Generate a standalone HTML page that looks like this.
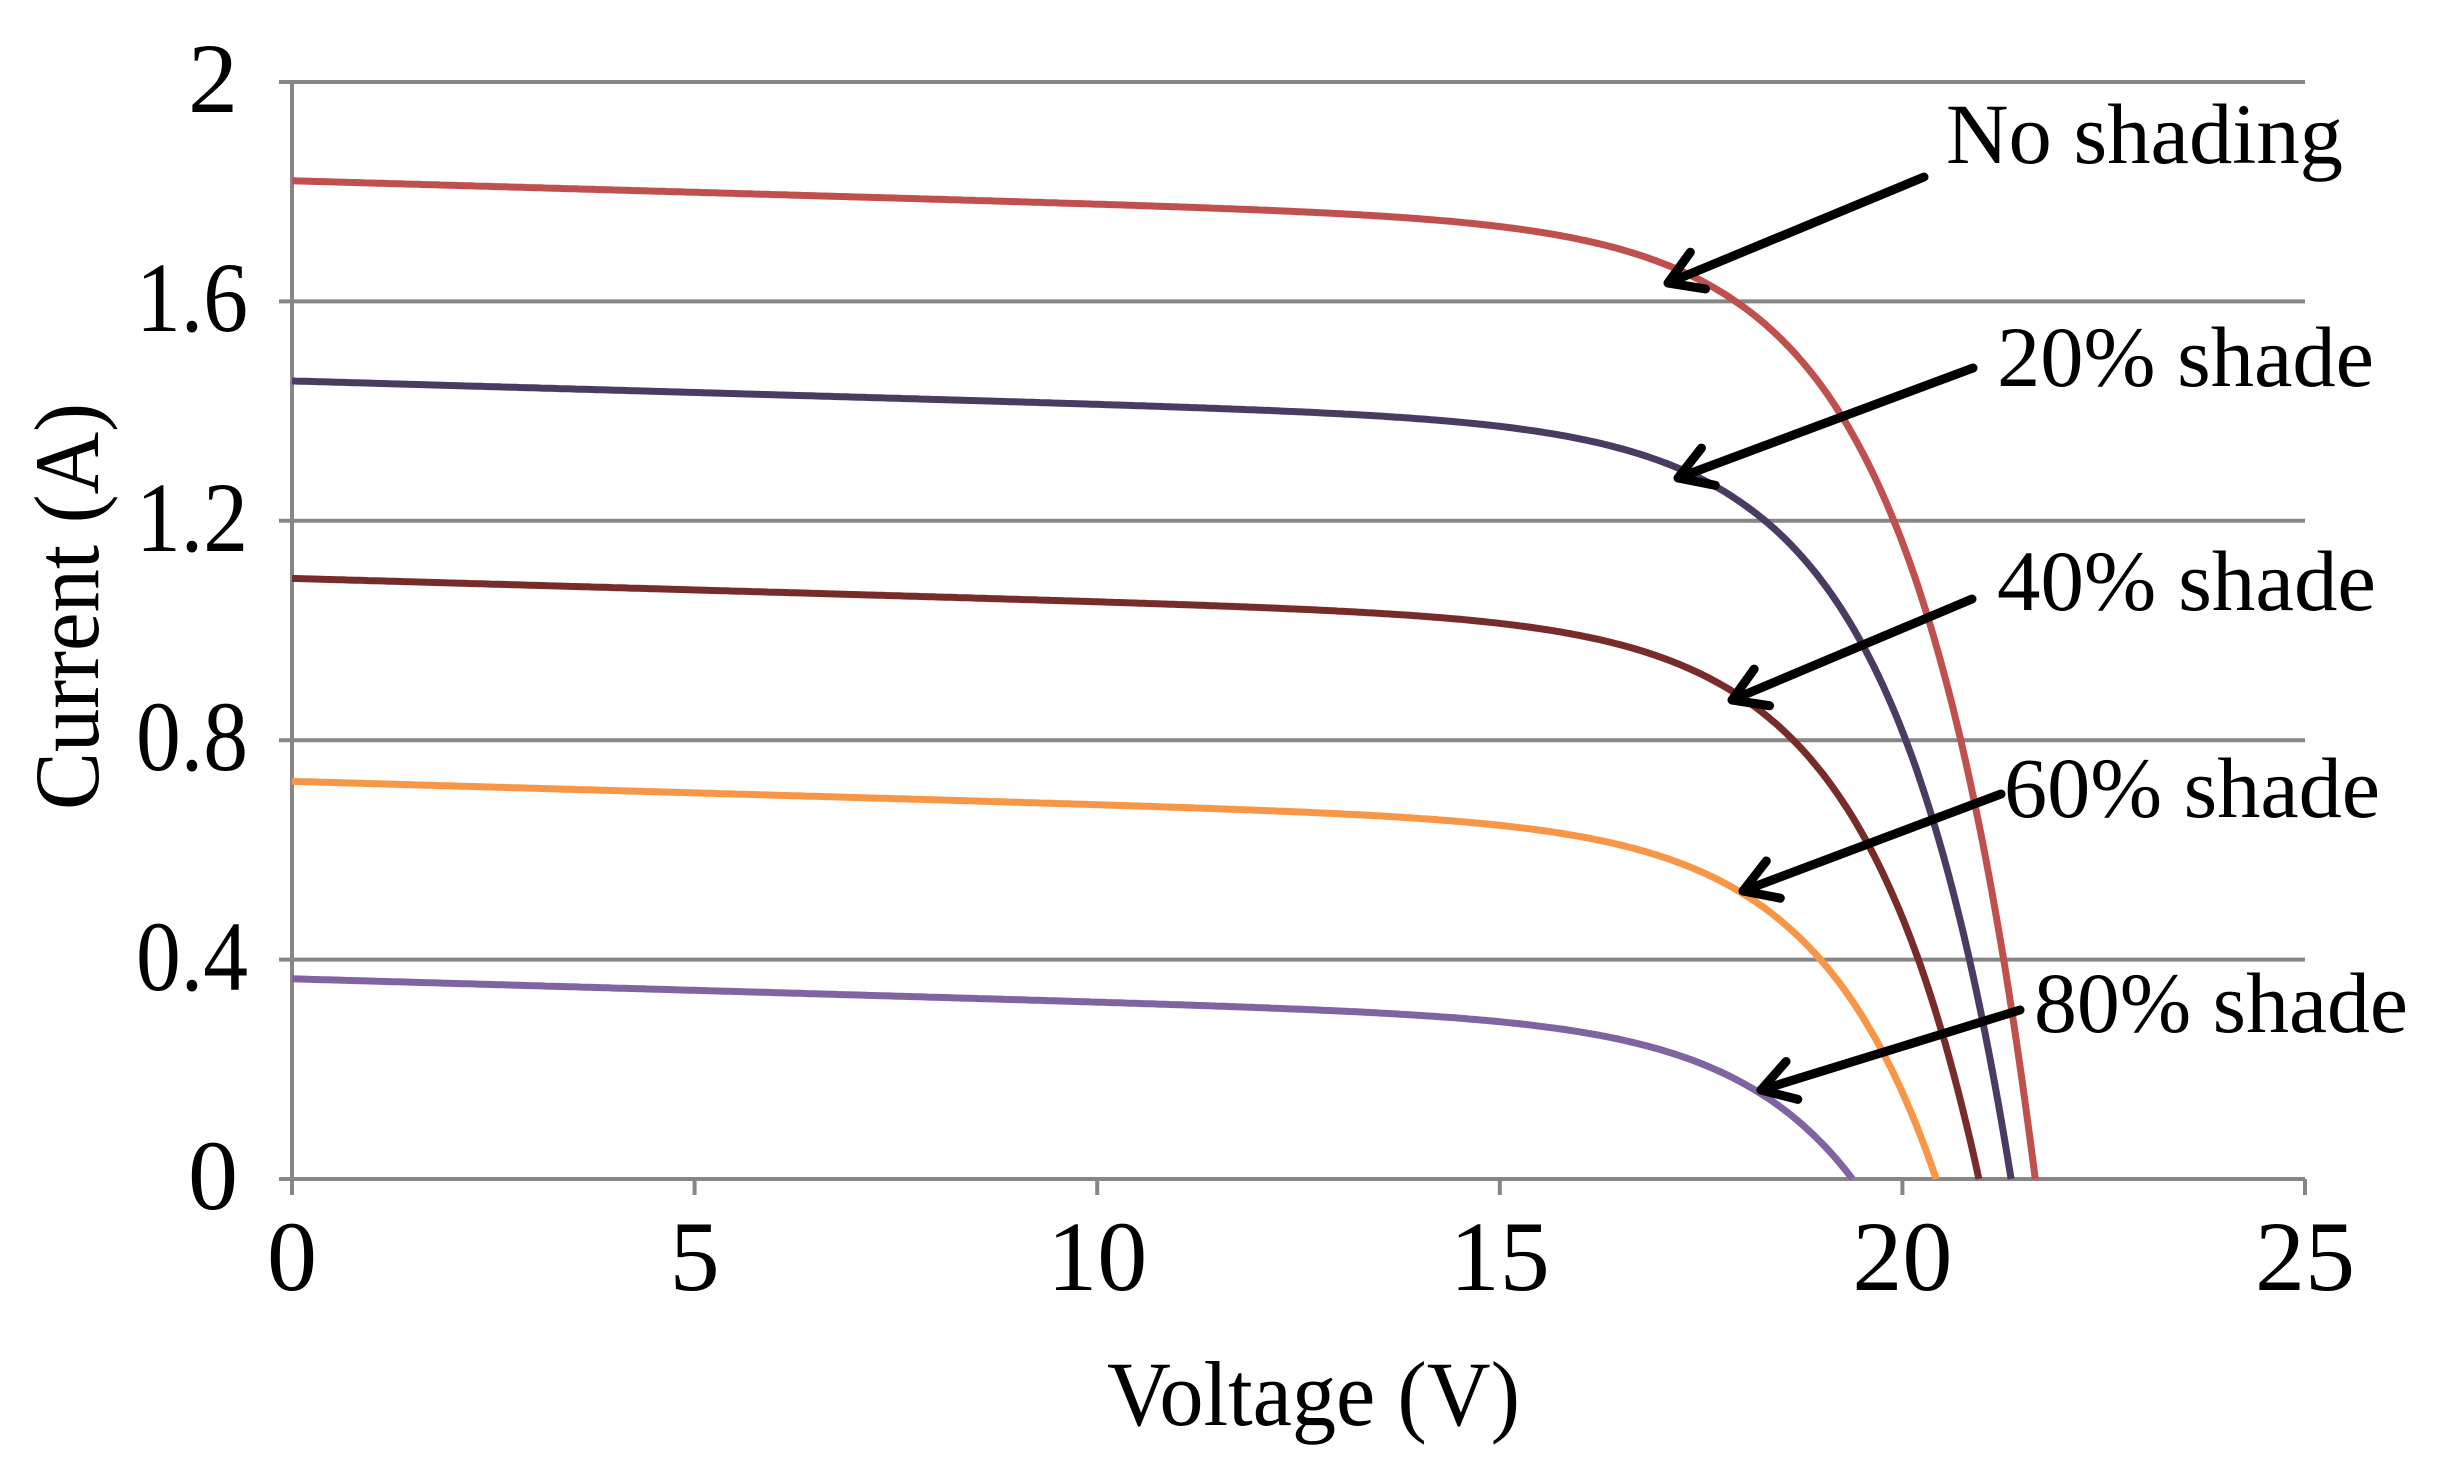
<!DOCTYPE html>
<html><head><meta charset="utf-8">
<style>html,body{margin:0;padding:0;background:#fff;}svg{display:block;}</style>
</head><body>
<svg id="s" width="2437" height="1470" viewBox="0 0 2437 1470" xmlns="http://www.w3.org/2000/svg" font-family="'Liberation Serif', serif">
<g stroke="#868686" stroke-width="4" fill="none">
<line x1="279" y1="82" x2="2305" y2="82"/>
<line x1="279" y1="301.4" x2="2305" y2="301.4"/>
<line x1="279" y1="520.8" x2="2305" y2="520.8"/>
<line x1="279" y1="740.2" x2="2305" y2="740.2"/>
<line x1="279" y1="959.6" x2="2305" y2="959.6"/>
<line x1="279" y1="1179" x2="2305" y2="1179"/>
<line x1="292" y1="82" x2="292" y2="1195"/>
<line x1="694.6" y1="1179" x2="694.6" y2="1195"/>
<line x1="1097.2" y1="1179" x2="1097.2" y2="1195"/>
<line x1="1499.8" y1="1179" x2="1499.8" y2="1195"/>
<line x1="1902.4" y1="1179" x2="1902.4" y2="1195"/>
<line x1="2305" y1="1179" x2="2305" y2="1195"/>
</g>
<g font-size="100" text-anchor="end" fill="#000">
<text x="238" y="112">2</text>
<text x="248" y="331" textLength="112" lengthAdjust="spacingAndGlyphs">1.6</text>
<text x="248" y="551" textLength="112" lengthAdjust="spacingAndGlyphs">1.2</text>
<text x="248" y="770" textLength="112" lengthAdjust="spacingAndGlyphs">0.8</text>
<text x="248" y="990" textLength="112" lengthAdjust="spacingAndGlyphs">0.4</text>
<text x="238" y="1209">0</text>
</g>
<g font-size="100" text-anchor="middle" fill="#000">
<text x="292" y="1290">0</text>
<text x="694.6" y="1290">5</text>
<text x="1097.2" y="1290">10</text>
<text x="1499.8" y="1290">15</text>
<text x="1902.4" y="1290">20</text>
<text x="2305" y="1290">25</text>
</g>
<text x="1107" y="1425" font-size="92" textLength="413" lengthAdjust="spacingAndGlyphs">Voltage (V)</text>
<text transform="translate(98,810) rotate(-90)" font-size="92" textLength="407" lengthAdjust="spacingAndGlyphs">Current (A)</text>
<g id="curves" fill="none" stroke-width="7"></g>
<g font-size="86" fill="#000">
<text x="1946" y="163" textLength="397" lengthAdjust="spacingAndGlyphs">No shading</text>
<text x="1997" y="386" textLength="377" lengthAdjust="spacingAndGlyphs">20% shade</text>
<text x="1997" y="610" textLength="379" lengthAdjust="spacingAndGlyphs">40% shade</text>
<text x="2004" y="817" textLength="376" lengthAdjust="spacingAndGlyphs">60% shade</text>
<text x="2034" y="1032" textLength="374" lengthAdjust="spacingAndGlyphs">80% shade</text>
</g>
<g id="arrows" stroke="#000" stroke-width="9" fill="none" stroke-linecap="round" stroke-linejoin="round"></g>
</svg>
<script>
var X0=292,XS=(2305-292)/25,Y0=1179,YS=548.5;
var curves=[[1.82,21.65,"#C0504D"],[1.455,21.35,"#4A3B63"],[1.095,20.95,"#772C2A"],[0.725,20.42,"#F79646"],[0.365,19.38,"#8064A2"]];
var g=document.getElementById("curves"),ns="http://www.w3.org/2000/svg";
curves.forEach(function(c){
 var isc=c[0],voc=c[1],b=1.5,sl=0.0042;
 var lin=function(v){return isc-sl*v;};
 var C=lin(voc)/(Math.exp(voc/b)-1);
 var d="";
 for(var i=0;i<=400;i++){var v=voc*i/400;var I=lin(v)-C*(Math.exp(v/b)-1);if(I<0)I=0;
  d+=(i?"L":"M")+(X0+v*XS).toFixed(1)+" "+(Y0-I*YS).toFixed(1);}
 var p=document.createElementNS(ns,"path");p.setAttribute("d",d);p.setAttribute("stroke",c[2]);g.appendChild(p);
});
var arr=[[1924,177,1668,283],[1973,368,1678,478],[1972,599,1732,700],[2001,794,1743,891],[2020,1010,1761,1090]];
var ag=document.getElementById("arrows");
arr.forEach(function(a){
 var dx=a[2]-a[0],dy=a[3]-a[1],L=Math.hypot(dx,dy),ux=dx/L,uy=dy/L,h=38,ang=0.55;
 function rot(t){return [-(ux*Math.cos(t)-uy*Math.sin(t))*h,-(ux*Math.sin(t)+uy*Math.cos(t))*h];}
 var r1=rot(ang),r2=rot(-ang);
 var d="M"+a[0]+" "+a[1]+"L"+a[2]+" "+a[3]+"M"+(a[2]+r1[0])+" "+(a[3]+r1[1])+"L"+a[2]+" "+a[3]+"L"+(a[2]+r2[0])+" "+(a[3]+r2[1]);
 var p=document.createElementNS(ns,"path");p.setAttribute("d",d);ag.appendChild(p);
});
</script>
</body></html>
